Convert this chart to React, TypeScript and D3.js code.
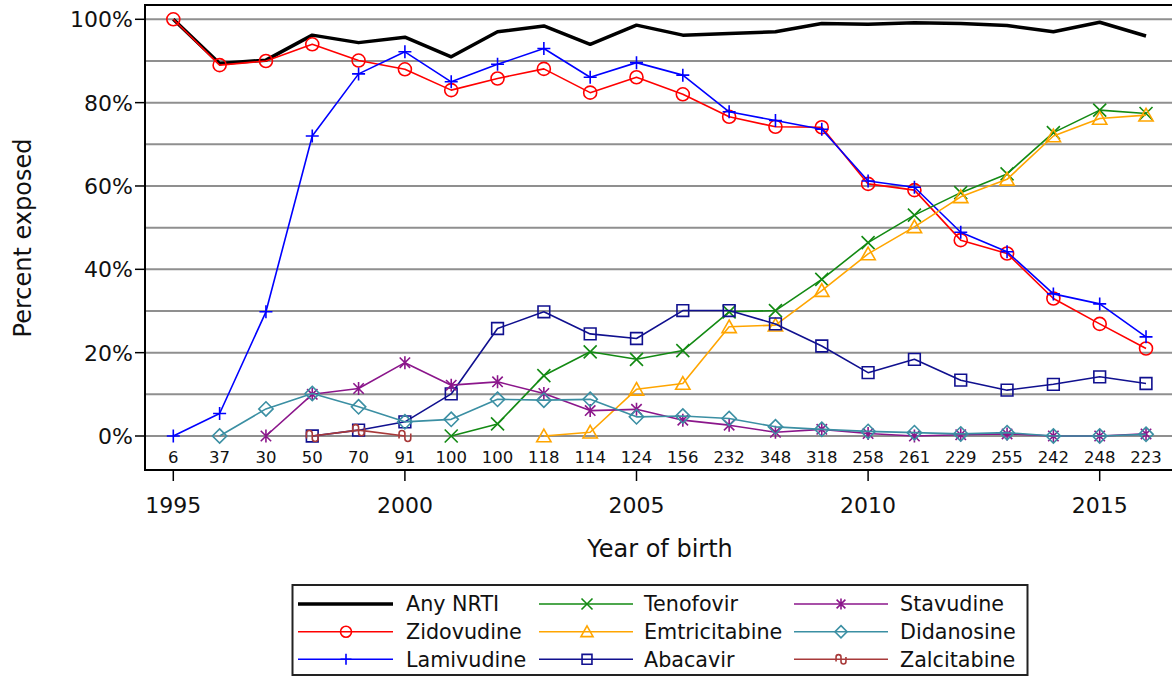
import React from "react";
import * as d3 from "d3";

const years = d3.range(1995, 2017);
const counts = [6, 37, 30, 50, 70, 91, 100, 100, 118, 114, 124, 156, 232, 348, 318, 258, 261, 229, 255, 242, 248, 223];

const anyNrti = [100, 89.4, 90.2, 96.2, 94.4, 95.7, 91.0, 97.0, 98.4, 94.0, 98.6, 96.2, 96.6, 97.0, 99.0, 98.8, 99.2, 99.0, 98.5, 97.0, 99.3, 96.0];
const zidovudine = [100, 89.0, 90.0, 94.0, 90.1, 88.0, 83.0, 85.8, 88.1, 82.4, 86.1, 82.0, 76.6, 74.2, 74.1, 60.5, 59.0, 47.0, 43.8, 33.0, 26.9, 21.0];
const lamivudine = [0, 5.4, 29.8, 72.0, 86.9, 92.2, 85.0, 89.2, 93.0, 86.1, 89.6, 86.6, 77.8, 75.7, 73.6, 61.2, 59.7, 48.9, 44.2, 34.1, 31.7, 23.8];
const tenofovir = [null, null, null, null, null, null, 0, 2.9, 14.5, 20.2, 18.4, 20.5, 29.8, 30.1, 37.6, 46.4, 53.0, 58.4, 62.9, 72.8, 78.2, 77.4];
const emtricitabine = [null, null, null, null, null, null, null, null, 0, 0.9, 11.2, 12.6, 26.2, 26.6, 34.9, 43.7, 50.2, 57.4, 61.6, 72.0, 76.2, 77.0];
const abacavir = [null, null, null, 0, 1.4, 3.4, 10.1, 25.8, 29.8, 24.5, 23.4, 30.1, 30.1, 26.9, 21.6, 15.2, 18.4, 13.4, 11.0, 12.4, 14.2, 12.6];
const stavudine = [null, null, 0, 10.0, 11.4, 17.6, 12.2, 13.0, 10.2, 6.1, 6.4, 3.8, 2.6, 0.9, 1.6, 0.6, 0, 0.3, 0.5, 0, 0, 0.5];
const didanosine = [null, 0, 6.5, 10.2, 7.0, 3.4, 4.0, 8.8, 8.6, 8.8, 4.6, 4.8, 4.2, 2.2, 1.6, 1.1, 0.8, 0.5, 0.8, 0, 0, 0.4];
const zalcitabine = [null, null, null, 0, 1.4, 0, null, null, null, null, null, null, null, null, null, null, null, null, null, null, null, null];

const yTicks = [0, 20, 40, 60, 80, 100];
const xTicks = [1995, 2000, 2005, 2010, 2015];

type Sym = "none" | "circle" | "plus" | "x" | "triangle" | "square" | "star" | "diamond" | "squiggle";

const series: { name: string; values: (number | null)[]; color: string; sym: Sym; width: number }[] = [
  { name: "Any NRTI", values: anyNrti, color: "#000000", sym: "none", width: 3.5 },
  { name: "Zidovudine", values: zidovudine, color: "#ff0000", sym: "circle", width: 1.6 },
  { name: "Lamivudine", values: lamivudine, color: "#0000ff", sym: "plus", width: 1.6 },
  { name: "Tenofovir", values: tenofovir, color: "#138a13", sym: "x", width: 1.6 },
  { name: "Emtricitabine", values: emtricitabine, color: "#ffa500", sym: "triangle", width: 1.6 },
  { name: "Abacavir", values: abacavir, color: "#10108f", sym: "square", width: 1.6 },
  { name: "Stavudine", values: stavudine, color: "#8b168b", sym: "star", width: 1.6 },
  { name: "Didanosine", values: didanosine, color: "#3b8fa3", sym: "diamond", width: 1.6 },
  { name: "Zalcitabine", values: zalcitabine, color: "#a83a3a", sym: "squiggle", width: 1.6 },
];

const FONT = "'DejaVu Sans', Verdana, sans-serif";

function markerPath(sym: Sym, s: number): string {
  switch (sym) {
    case "circle":
      return `M ${-s},0 A ${s},${s} 0 1 0 ${s},0 A ${s},${s} 0 1 0 ${-s},0 Z`;
    case "plus":
      return `M ${-s},0 H ${s} M 0,${-s} V ${s}`;
    case "x":
      return `M ${-s},${-s} L ${s},${s} M ${-s},${s} L ${s},${-s}`;
    case "triangle": {
      const h = s * 1.05;
      return `M 0,${-h} L ${s * 1.1},${h * 0.85} L ${-s * 1.1},${h * 0.85} Z`;
    }
    case "square": {
      const q = s * 0.9;
      return `M ${-q},${-q} H ${q} V ${q} H ${-q} Z`;
    }
    case "diamond": {
      const q = s * 1.1;
      return `M 0,${-q} L ${q},0 L 0,${q} L ${-q},0 Z`;
    }
    case "star": {
      const d = s * 0.8;
      return `M 0,${-s} V ${s} M ${-d},${-d} L ${d},${d} M ${-d},${d} L ${d},${-d}`;
    }
    case "squiggle": {
      const w = s * 0.9;
      const r = w / 2;
      const h = s * 0.4;
      return `M ${-w},${h} V ${-h} A ${r},${r} 0 0 1 0,${-h} V ${h} A ${r},${r} 0 0 0 ${w},${h} V ${-h}`;
    }
    default:
      return "";
  }
}

export default function App() {
  const width = 1172;
  const height = 677;

  const x = d3.scaleLinear().domain([1995, 2015]).range([173.3, 1099.7]);
  const y = d3.scaleLinear().domain([0, 100]).range([436, 19.3]);

  const frameLeft = 145;
  const frameRight = x(2016) + (x(1995) - frameLeft);
  const frameTop = 5;
  const frameBottom = 470;

  const line = d3
    .line<number | null>()
    .defined(d => d != null)
    .x((_, i) => x(years[i]))
    .y(d => y(d as number));

  const legendCols = [
    { lineX0: 298, lineX1: 393, markX: 346, textX: 406 },
    { lineX0: 539, lineX1: 633, markX: 587, textX: 644 },
    { lineX0: 794, lineX1: 888, markX: 841, textX: 900 },
  ];
  const legendRows = [604, 631.7, 659.3];

  return (
    <svg
      width={width}
      height={height}
      style={{ position: "absolute", left: 0, top: 0, background: "#fff" }}
      fontFamily={FONT}
    >
      <rect x={0} y={0} width={width} height={height} fill="#fff" />

      {/* gridlines */}
      {d3.range(0, 101, 10).map(v => (
        <line key={v} x1={frameLeft} x2={frameRight} y1={y(v)} y2={y(v)} stroke="#8f8f8f" strokeWidth={2} />
      ))}

      {/* frame */}
      <rect
        x={frameLeft}
        y={frameTop}
        width={frameRight - frameLeft}
        height={frameBottom - frameTop}
        fill="none"
        stroke="#000"
        strokeWidth={2}
      />

      {/* y axis */}
      {yTicks.map(v => (
        <g key={v}>
          <line x1={frameLeft - 10} x2={frameLeft} y1={y(v)} y2={y(v)} stroke="#000" strokeWidth={1.5} />
          <text x={frameLeft - 12} y={y(v)} dy="0.36em" textAnchor="end" fontSize={22} fill="#111">
            {v}%
          </text>
        </g>
      ))}
      <text
        transform={`translate(31, ${238}) rotate(-90)`}
        textAnchor="middle"
        fontSize={24}
        fill="#111"
      >
        Percent exposed
      </text>

      {/* x axis */}
      {xTicks.map(t => (
        <g key={t}>
          <line x1={x(t)} x2={x(t)} y1={frameBottom} y2={frameBottom + 11} stroke="#000" strokeWidth={1.5} />
          <text x={x(t)} y={505} dy="0.36em" textAnchor="middle" fontSize={22} fill="#111">
            {t}
          </text>
        </g>
      ))}
      <text x={660} y={548} dy="0.36em" textAnchor="middle" fontSize={24} fill="#111">
        Year of birth
      </text>

      {/* counts */}
      {counts.map((c, i) => (
        <text key={i} x={x(years[i])} y={456.7} dy="0.36em" textAnchor="middle" fontSize={16.5} fill="#111">
          {c}
        </text>
      ))}

      {/* series */}
      {series.map(s => (
        <g key={s.name}>
          <path d={line(s.values) ?? ""} fill="none" stroke={s.color} strokeWidth={s.width} strokeLinejoin="round" />
          {s.sym !== "none" &&
            s.values.map((v, i) =>
              v == null ? null : (
                <path
                  key={i}
                  transform={`translate(${x(years[i])},${y(v)})`}
                  d={markerPath(s.sym, 6.5)}
                  fill="none"
                  stroke={s.color}
                  strokeWidth={1.6}
                />
              )
            )}
        </g>
      ))}

      {/* legend */}
      <rect x={292.5} y={585} width={735} height={90} fill="#fff" stroke="#222" strokeWidth={2} />
      {series.map((s, i) => {
        const col = legendCols[Math.floor(i / 3)];
        const ry = legendRows[i % 3];
        return (
          <g key={s.name}>
            <line x1={col.lineX0} x2={col.lineX1} y1={ry} y2={ry} stroke={s.color} strokeWidth={s.sym === "none" ? 3.5 : 1.6} />
            {s.sym !== "none" && (
              <path
                transform={`translate(${col.markX},${ry})`}
                d={markerPath(s.sym, 5.5)}
                fill="none"
                stroke={s.color}
                strokeWidth={1.6}
              />
            )}
            <text x={col.textX} y={ry} dy="0.36em" fontSize={20.7} fill="#111">
              {s.name}
            </text>
          </g>
        );
      })}
    </svg>
  );
}
